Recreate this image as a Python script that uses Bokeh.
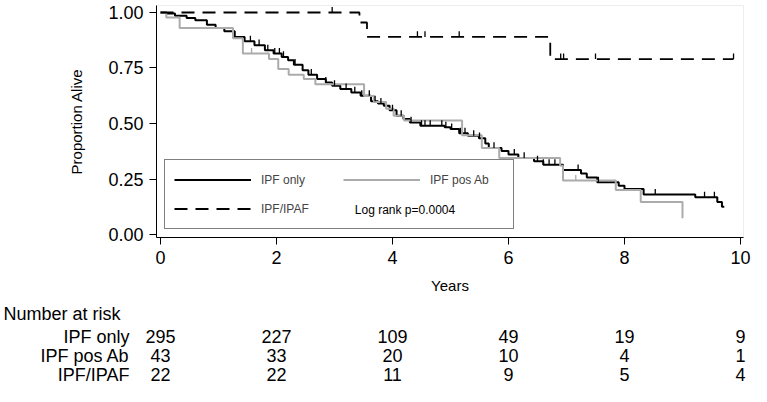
import numpy as np
from bokeh.plotting import figure
from bokeh.layouts import column, row
from bokeh.models import (Range1d, Legend, LegendItem, FixedTicker,
                          NumeralTickFormatter)
from bokeh.core.properties import value
from bokeh.embed import file_html
from bokeh.resources import INLINE

# ---------------- data ----------------
ipf_t = [0, 0.10, 0.25, 0.45, 0.60, 0.80, 0.95, 1.10, 1.28, 1.45, 1.62, 1.80, 1.95,
         2.09, 2.20, 2.30, 2.45, 2.55, 2.70, 2.85, 2.96, 3.10, 3.29, 3.45, 3.63,
         3.75, 3.85, 3.95, 4.07, 4.19, 4.30, 4.48, 4.90, 5.00, 5.15, 5.30, 5.49,
         5.60, 5.66, 5.88, 6.00, 6.17, 6.44, 6.60, 6.94, 7.25, 7.35, 7.53, 7.90,
         8.00, 8.33, 9.22, 9.60, 9.68, 9.72]
ipf_s = [1.0, 0.995, 0.985, 0.975, 0.965, 0.945, 0.93, 0.915, 0.89, 0.87, 0.853, 0.83, 0.815,
         0.80, 0.785, 0.765, 0.74, 0.72, 0.70, 0.685, 0.67, 0.655, 0.64, 0.625, 0.60,
         0.59, 0.58, 0.56, 0.535, 0.52, 0.505, 0.49, 0.483, 0.475, 0.456, 0.445, 0.434,
         0.41, 0.39, 0.376, 0.36, 0.345, 0.33, 0.314, 0.29, 0.275, 0.257, 0.235, 0.22,
         0.205, 0.18, 0.168, 0.146, 0.125, 0.125]
ipf_cens = [1.55, 1.70, 1.85, 1.97, 2.05, 2.12, 2.32, 2.60, 2.85, 3.00, 3.20, 3.35, 3.47,
            3.60, 3.70, 3.80, 4.00, 4.15, 4.32, 4.50, 4.56, 4.65, 4.85, 4.92, 5.02,
            5.17, 5.25, 5.40, 5.50, 5.75, 6.10, 6.27, 6.50, 6.60, 6.70, 6.80, 7.20,
            7.55, 8.53, 9.38, 9.55]

ab_t = [0, 0.10, 0.33, 1.25, 1.42, 1.87, 2.03, 2.21, 2.47, 2.67, 3.51, 3.68, 3.89,
        4.02, 4.20, 5.20, 5.54, 5.84, 6.89, 6.94, 7.85, 8.28, 9.00, 9.00]
ab_s = [1.0, 0.977, 0.93, 0.884, 0.815, 0.79, 0.745, 0.72, 0.70, 0.677, 0.624, 0.597, 0.566,
        0.535, 0.513, 0.447, 0.39, 0.345, 0.31, 0.243, 0.20, 0.146, 0.146, 0.073]
ab_cens = [1.57, 7.16]

ipaf_t = [0, 3.43, 3.56, 6.72, 9.88]
ipaf_s = [1.0, 0.955, 0.89, 0.79, 0.79]
ipaf_cens = [2.96, 4.43, 4.56, 5.15, 6.90, 6.95, 7.50, 9.88]

risk_years = [0, 2, 4, 6, 8, 10]
risk_ipf = [295, 227, 109, 49, 19, 9]
risk_ab = [43, 33, 20, 10, 4, 1]
risk_ipaf = [22, 22, 11, 9, 5, 4]
group_names = ["IPF only", "IPF pos Ab", "IPF/IPAF"]
logrank_text = "Log rank p=0.0004"

FONT = "Liberation Sans"
GRAY = "#ababab"

# ---------------- layout constants (pixels) ----------------
W = 751
H_TOP = 300
H_BOT = 86
PX_PER_YEAR = 58.0
X0_PX = 160          # canvas x of year 0
FRAME_L, FRAME_R = 156, 743


def surv_at(times, surv, t):
    i = np.searchsorted(np.asarray(times), t, side="right") - 1
    return np.asarray(surv)[i]


x_start = -(X0_PX - FRAME_L) / PX_PER_YEAR
x_end = (FRAME_R - X0_PX) / PX_PER_YEAR

p = figure(width=W, height=H_TOP, output_backend="svg", toolbar_location=None,
           x_range=Range1d(x_start, x_end), y_range=Range1d(-0.0135, 1.0315),
           min_border_left=FRAME_L, min_border_right=W - FRAME_R, min_border_top=5,
           min_border_bottom=63)
p.grid.visible = False
p.outline_line_color = "#ededed"
p.background_fill_color = "white"
p.border_fill_color = "white"

# curves
r_ipf = p.step(ipf_t, ipf_s, mode="after", line_color="black", line_width=2)
r_ab = p.step(ab_t, ab_s, mode="after", line_color=GRAY, line_width=2)
r_ipaf = p.step(ipaf_t, ipaf_s, mode="after", line_color="black", line_width=1.8,
                line_dash="13 8")

# censor ticks
for times, surv, cens, col in [(ipf_t, ipf_s, ipf_cens, "black"),
                               (ab_t, ab_s, ab_cens, GRAY),
                               (ipaf_t, ipaf_s, ipaf_cens, "black")]:
    c = np.asarray(cens)
    s = surv_at(times, surv, c)
    p.segment(x0=c, x1=c, y0=s, y1=s + 0.025, line_color=col, line_width=1.3)

# axes
p.xaxis.ticker = FixedTicker(ticks=risk_years)
p.yaxis.ticker = FixedTicker(ticks=[0, 0.25, 0.5, 0.75, 1.0])
p.yaxis.formatter = NumeralTickFormatter(format="0.00")
for ax in (p.xaxis[0], p.yaxis[0]):
    ax.major_tick_out = 7
    ax.major_tick_in = 0
    ax.minor_tick_out = 0
    ax.minor_tick_in = 0
    ax.axis_line_color = "black"
    ax.major_tick_line_color = "black"
    ax.major_label_text_font = FONT
    ax.major_label_text_font_size = "18px"
    ax.major_label_text_color = "black"
    ax.axis_label_text_font = FONT
    ax.axis_label_text_font_size = "15px"
    ax.axis_label_text_font_style = "normal"
    ax.axis_label_text_color = "black"
p.xaxis.axis_label = "Years"
p.yaxis.axis_label = "Proportion Alive"
p.yaxis.major_label_standoff = 6
p.yaxis.axis_label_standoff = 20
p.xaxis.major_label_standoff = 6
p.xaxis.axis_label_standoff = 10

# legend (transparent fill so the log-rank text glyph shows inside it)
legend = Legend(items=[LegendItem(label=group_names[0], renderers=[r_ipf]),
                       LegendItem(label=group_names[2], renderers=[r_ipaf]),
                       LegendItem(label=group_names[1], renderers=[r_ab])],
                ncols=2, location=(8, 8), glyph_width=77, glyph_height=21,
                label_height=21, label_width=74, label_standoff=10, spacing=8,
                padding=9, margin=0,
                border_line_color="black", border_line_width=1.2,
                label_text_font=FONT, label_text_font_size="12px",
                background_fill_alpha=0.0)
p.add_layout(legend)
p.text(x=[3.35], y=[0.110], text=[logrank_text], text_font=value(FONT),
       text_font_size="12px", text_baseline="middle", text_color="black")

# ---------------- risk table (own full-width figure, same px-per-year scale) ----------------
row_mid = [13, 36, 55, 74]   # vertical centres (px from top of table)
t = figure(width=W, height=H_BOT, output_backend="svg", toolbar_location=None,
           x_range=Range1d(-X0_PX / PX_PER_YEAR, (W - X0_PX) / PX_PER_YEAR),
           y_range=Range1d(H_BOT, 0), x_axis_location=None, y_axis_location=None,
           min_border=0)
t.grid.visible = False
t.outline_line_color = None
t.background_fill_color = "white"
t.border_fill_color = "white"

t.text(x=[(3 - X0_PX) / PX_PER_YEAR], y=[row_mid[0]], text=["Number at risk"],
       text_font=value(FONT), text_font_size="18px", text_align="left",
       text_baseline="middle", text_color="black")
t.text(x=[(129 - X0_PX) / PX_PER_YEAR] * 3, y=row_mid[1:], text=group_names,
       text_font=value(FONT), text_font_size="18px", text_align="right",
       text_baseline="middle", text_color="black")
for counts, yy in zip([risk_ipf, risk_ab, risk_ipaf], row_mid[1:]):
    t.text(x=risk_years, y=[yy] * len(risk_years), text=[str(v) for v in counts],
           text_font=value(FONT), text_font_size="18px", text_align="center",
           text_baseline="middle", text_color="black")

layout = column(p, row(t), spacing=0)
open("out.html", "w").write(file_html(layout, INLINE))
